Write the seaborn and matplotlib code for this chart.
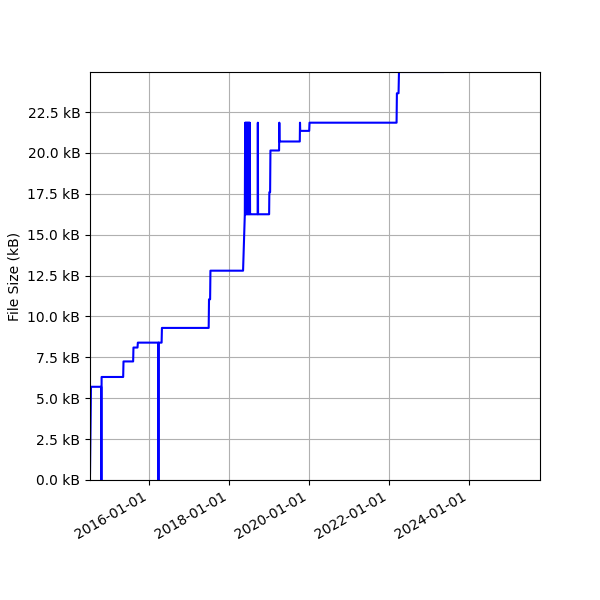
import pandas as pd
import matplotlib
matplotlib.use("Agg")
import matplotlib.pyplot as plt
import matplotlib.dates as mdates
from matplotlib.ticker import FuncFormatter, MultipleLocator
import seaborn as sns

# File size history (date of commit, size in kB)
dates = [
    "2014-07-10", "2014-07-19", "2014-10-20", "2014-10-22", "2014-10-24",
    "2015-05-09", "2015-05-12", "2015-08-08", "2015-08-11", "2015-09-17",
    "2015-09-20", "2016-03-24", "2016-03-26", "2016-03-28", "2016-04-24",
    "2016-04-27", "2017-06-28", "2017-07-01", "2017-07-11", "2017-07-14",
    "2018-05-08", "2018-05-24",
    "2018-05-27", "2018-05-30", "2018-06-02", "2018-06-05", "2018-06-08",
    "2018-06-11", "2018-06-14", "2018-06-17", "2018-06-20", "2018-06-23",
    "2018-06-26", "2018-06-29", "2018-07-02", "2018-07-05", "2018-07-08",
    "2018-07-11", "2018-07-14",
    "2018-09-18", "2018-09-20", "2018-09-22",
    "2019-01-01", "2019-01-03", "2019-01-10", "2019-01-13",
    "2019-04-02", "2019-04-04", "2019-04-06",
    "2019-10-08", "2019-10-10", "2019-10-12",
    "2020-01-02", "2020-01-05",
    "2022-03-10", "2022-03-13", "2022-03-28", "2022-04-01", "2023-05-08",
]
sizes_kb = [
    0.4, 5.7, 5.7, 0.0, 6.3,
    6.3, 7.25, 7.25, 8.1, 8.1,
    8.4, 8.4, 0.0, 8.4, 8.4,
    9.3, 9.3, 11.05, 11.05, 12.8,
    12.8, 16.25,
    21.85, 16.25, 21.85, 16.25, 21.85,
    16.25, 21.85, 16.25, 21.85, 16.25,
    21.85, 16.25, 21.85, 16.25, 21.85,
    16.25, 16.25,
    16.25, 21.85, 16.25,
    16.25, 17.6, 17.6, 20.15,
    20.15, 21.85, 20.7,
    20.7, 21.85, 21.35,
    21.35, 21.85,
    21.85, 23.65, 23.65, 24.95, 24.95,
]

df = pd.DataFrame({"date": pd.to_datetime(dates), "size": sizes_kb})

fig, ax = plt.subplots(figsize=(6, 6), dpi=100)
sns.lineplot(data=df, x="date", y="size", color="blue", estimator=None, ax=ax)

ax.set_xlim(pd.Timestamp("2014-07-10"), pd.Timestamp("2025-10-10"))
ax.set_ylim(0, max(sizes_kb))
ax.xaxis.set_major_locator(mdates.YearLocator(2))
ax.xaxis.set_major_formatter(mdates.DateFormatter("%Y-%m-%d"))
ax.yaxis.set_major_locator(MultipleLocator(2.5))
ax.yaxis.set_major_formatter(FuncFormatter(lambda v, pos: f"{v:.1f} kB"))
ax.set_xlabel("")
ax.set_ylabel("File Size (kB)")
ax.grid(True)

fig.autofmt_xdate()
fig.subplots_adjust(left=0.15, right=0.9, top=0.88, bottom=0.2)
plt.savefig("out.png")
plt.close()
